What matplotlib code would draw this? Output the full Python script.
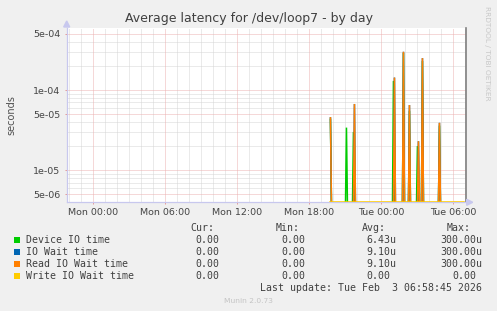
import numpy as np
import matplotlib
matplotlib.use("Agg")
import matplotlib.pyplot as plt
from matplotlib.patches import Rectangle
from matplotlib.ticker import FixedLocator, NullFormatter, FixedFormatter

# ---------------- data (hours since Mon 00:00, seconds) ----------------
data_start_h = 19.75          # first sample with data (Mon 19:45)
data_end_h = 30.95            # last update Tue 06:58
step_h = 5 / 60               # 5-minute samples

device_spike_h = [19.75, 21.0833, 21.6667, 25.0, 25.8333, 26.3333, 27.0, 27.4167, 28.8333]
device_spike_v = [4.3e-5, 3.4e-5, 3.0e-5, 1.3e-4, 2.9e-4, 5.5e-5, 2.0e-5, 2.3e-4, 3.6e-5]

read_spike_h = [19.75, 21.75, 25.0833, 25.8333, 26.3333, 27.0833, 27.4167, 28.8333]
read_spike_v = [4.5e-5, 6.7e-5, 1.43e-4, 3.0e-4, 6.5e-5, 2.3e-5, 2.5e-4, 3.9e-5]

iowait_spike_h = read_spike_h
iowait_spike_v = read_spike_v

write_spike_h = []
write_spike_v = []

series_names = ["Device IO time", "IO Wait time", "Read IO Wait time", "Write IO Wait time"]
series_colors = ["#00CC00", "#0066B3", "#FF8000", "#FFCC00"]
cur_vals = ["0.00", "0.00", "0.00", "0.00"]
min_vals = ["0.00", "0.00", "0.00", "0.00"]
avg_vals = ["6.43u", "9.10u", "9.10u", "0.00"]
max_vals = ["300.00u", "300.00u", "300.00u", "0.00"]

xtick_pos = [0, 6, 12, 18, 24, 30]
xtick_labels = ["Mon 00:00", "Mon 06:00", "Mon 12:00", "Mon 18:00", "Tue 00:00", "Tue 06:00"]
ytick_pos = [5e-6, 1e-5, 5e-5, 1e-4, 5e-4]
ytick_labels = ["5e-06", "1e-05", "5e-05", "1e-04", "5e-04"]

x_min, x_max = -2.23, 31.02
y_min, y_max = 3.98e-6, 5.94e-4

title = "Average latency for /dev/loop7 - by day"
last_update = "Last update: Tue Feb  3 06:58:45 2026"

# ---------------- build series on the 5-min grid ----------------
n = int(round((data_end_h - data_start_h) / step_h)) + 1
t = data_start_h + step_h * np.arange(n)

def build(sh, sv, floor):
    y = np.zeros(n)
    for h, v in zip(sh, sv):
        i = int(round((h - data_start_h) / step_h))
        y[i] = v
    return np.maximum(y, floor)   # zero values go to the floor of the log axis

series = [build(device_spike_h, device_spike_v, y_min * 0.9),
          build(iowait_spike_h, iowait_spike_v, y_min * 0.9),
          build(read_spike_h, read_spike_v, y_min * 0.9),
          build(write_spike_h, write_spike_v, y_min)]

# ---------------- figure ----------------
W, H = 497, 311
fig = plt.figure(figsize=(W / 100, H / 100), dpi=100, facecolor="#F0F0F0")

def fx(x):
    return x / W

def fy(y):
    return 1 - y / H

L, R, T, B = 66.7, 465.7, 28.0, 202.3
ax = fig.add_axes([fx(L), fy(B), fx(R - L), (B - T) / H])
ax.set_facecolor("white")
ax.set_yscale("log")
ax.set_xlim(x_min, x_max)
ax.set_ylim(y_min, y_max)

# grid
minor_col = "#D6D6D6"
major_col = "#ECB2B2"
dot = (0, (1, 1))
gkw = dict(lw=0.72, ls=dot)
for h in np.arange(-2, 32, 1):
    if h % 6 != 0:
        ax.axvline(h, color=minor_col, zorder=0, **gkw)
for h in xtick_pos:
    ax.axvline(h, color=major_col, zorder=0.5, **gkw)
for dec in [1e-6, 1e-5, 1e-4]:
    for m in range(1, 10):
        v = m * dec
        if y_min < v < y_max:
            if m in (1, 5):
                ax.axhline(v, color=major_col, zorder=0.5, **gkw)
            else:
                ax.axhline(v, color=minor_col, zorder=0, **gkw)

# data lines
for k, (y, c) in enumerate(zip(series, series_colors)):
    ax.plot(t, y, color=c, lw=1.1, zorder=3 + k, solid_joinstyle="miter")

# ticks
ax.xaxis.set_major_locator(FixedLocator(xtick_pos))
ax.xaxis.set_major_formatter(FixedFormatter(xtick_labels))
ax.xaxis.set_minor_locator(FixedLocator([]))
ax.yaxis.set_major_locator(FixedLocator(ytick_pos))
ax.yaxis.set_major_formatter(FixedFormatter(ytick_labels))
ax.yaxis.set_minor_locator(FixedLocator([]))
ax.yaxis.set_minor_formatter(NullFormatter())
ax.tick_params(axis="both", which="major", labelsize=6.8, labelcolor="#444444",
               color="#E59A9A", length=1.5, width=0.72)
ax.tick_params(axis="x", pad=2.5)
ax.tick_params(axis="y", pad=3.0)

# spines
ax.spines["top"].set_visible(False)
ax.spines["right"].set_color("#808080")
ax.spines["right"].set_linewidth(1.2)
ax.spines["left"].set_color("#C8C8EE")
ax.spines["bottom"].set_color("#C8C8EE")
ax.spines["left"].set_linewidth(0.9)
ax.spines["bottom"].set_linewidth(0.9)

# arrows on axes
fig.patches.append(plt.Polygon([[fx(L - 3), fy(T - 1)], [fx(L + 3), fy(T - 1)], [fx(L), fy(T - 7)]],
                               closed=True, transform=fig.transFigure, color="#C8C8EE"))
fig.patches.append(plt.Polygon([[fx(R + 1), fy(B - 3)], [fx(R + 1), fy(B + 3)], [fx(R + 7), fy(B)]],
                               closed=True, transform=fig.transFigure, color="#C8C8EE"))

# title & labels
fig.text(fx(248.7), fy(22), title, ha="center", va="baseline", fontsize=9, color="#404040")
fig.text(fx(11), fy(115), "seconds", ha="center", va="center", rotation=90,
         fontsize=7, color="#505050")
fig.text(fx(487.5), fy(53), "RRDTOOL / TOBI OETIKER", ha="center", va="center",
         rotation=270, fontsize=5.3, color="#C8C8C8")

# legend
mono = "DejaVu Sans Mono"
fs = 7.1
lc = "#404040"
for hdr, xl in zip(["Cur:", "Min:", "Avg:", "Max:"], [190.7, 276.0, 361.7, 446.7]):
    fig.text(fx(xl), fy(231.3), hdr, ha="left", va="baseline", family=mono, fontsize=fs, color=lc)

cw = 5.95
col_right = [219.3, 305.7, 396.0, 482.3]
for i, (name, col) in enumerate(zip(series_names, series_colors)):
    yb = 243.3 + 12 * i
    fig.patches.append(Rectangle((fx(14), fy(yb)), 6 / W, 6 / H, transform=fig.transFigure,
                                 facecolor=col, edgecolor="none"))
    fig.text(fx(26), fy(yb), name, ha="left", va="baseline", family=mono, fontsize=fs, color=lc)
    vals = [cur_vals[i], min_vals[i], avg_vals[i], max_vals[i]]
    for j, (val, xr) in enumerate(zip(vals, col_right)):
        if j >= 2 and not val.endswith("u"):
            xr = xr - cw
        fig.text(fx(xr), fy(yb), val, ha="right", va="baseline", family=mono, fontsize=fs, color=lc)

fig.text(fx(482.3), fy(291.3), last_update, ha="right", va="baseline", family=mono,
         fontsize=fs, color=lc)
fig.text(fx(248), fy(303), "Munin 2.0.73", ha="center", va="baseline", fontsize=5.4,
         color="#C4C4C4")

fig.savefig("out.png", dpi=100, facecolor=fig.get_facecolor())
